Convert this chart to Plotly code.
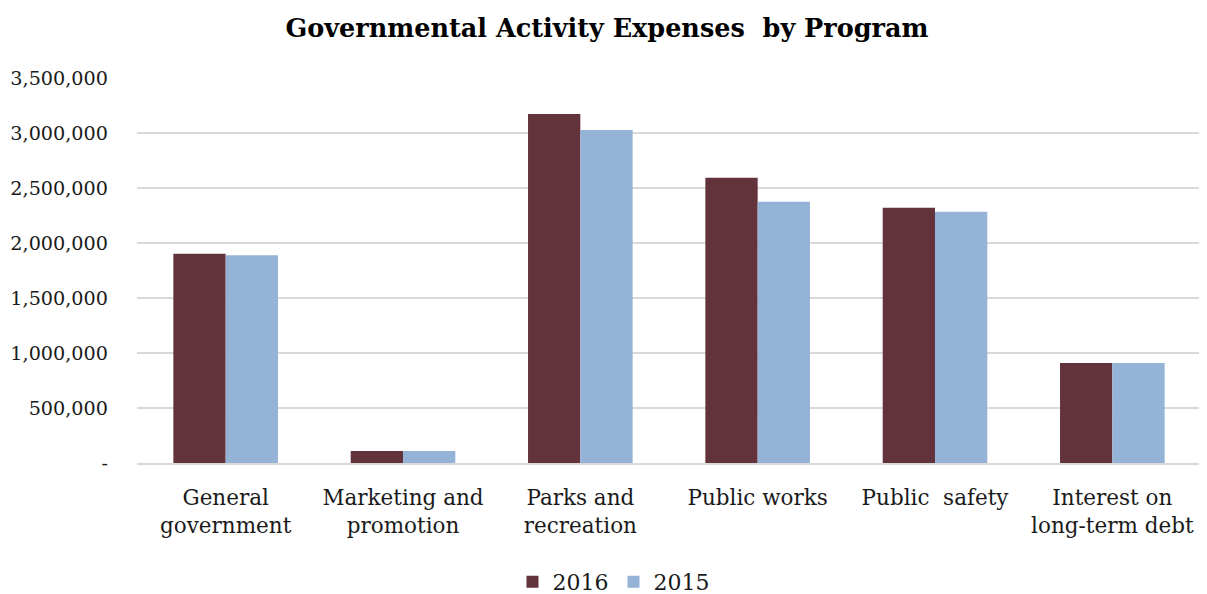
import plotly.graph_objects as go

categories = ["General<br>government", "Marketing and<br>promotion", "Parks and<br>recreation",
              "Public works", "Public  safety", "Interest on<br>long-term debt"]
values_2016 = [1903000, 109000, 3173000, 2594000, 2321000, 909000]
values_2015 = [1888000, 109000, 3027000, 2376000, 2285000, 909000]
tick_vals = [0, 500000, 1000000, 1500000, 2000000, 2500000, 3000000, 3500000]
tick_text = ["-", "500,000", "1,000,000", "1,500,000", "2,000,000", "2,500,000", "3,000,000", "3,500,000"]

FONT = "DejaVu Serif"

fig = go.Figure()
fig.add_trace(go.Bar(name="2016", x=categories, y=values_2016, marker_color="#63333B",
                     marker_line_width=0))
fig.add_trace(go.Bar(name="2015", x=categories, y=values_2015, marker_color="#95B3D7",
                     marker_line_width=0))

# page body adds an 8px margin, so the figure is drawn 8px in from the top-left
fig.update_layout(
    width=1199, height=586,
    barmode="group", bargap=0.41, bargroupgap=0,
    paper_bgcolor="white", plot_bgcolor="white",
    margin=dict(l=129, r=6, t=70, b=131, autoexpand=False),
    font=dict(family=FONT, size=20, color="#1a1a1a"),
    title=dict(text="<b>Governmental Activity Expenses  by Program</b>", x=0.4996, xanchor="center",
               y=0.966, yanchor="middle", font=dict(family=FONT, size=25.5, color="#000000")),
    legend=dict(orientation="h", xref="container", x=0.505, xanchor="center", y=-0.309, yanchor="middle",
                font=dict(family=FONT, size=22, color="#1a1a1a"), traceorder="normal",
                itemwidth=30),
    xaxis=dict(showgrid=False, showline=True, linecolor="#d9d9d9", linewidth=1.5, ticks="",
               tickfont=dict(family=FONT, size=21.5), automargin=False, ticklabelstandoff=14),
    yaxis=dict(range=[0, 3500000], tickvals=tick_vals, ticktext=tick_text, showgrid=True,
               gridcolor="#d9d9d9", gridwidth=1.5, zeroline=False, ticks="", ticklen=0,
               tickfont=dict(family=FONT, size=19.2), automargin=False, ticklabelstandoff=28),
)

fig.write_html("out.html")
